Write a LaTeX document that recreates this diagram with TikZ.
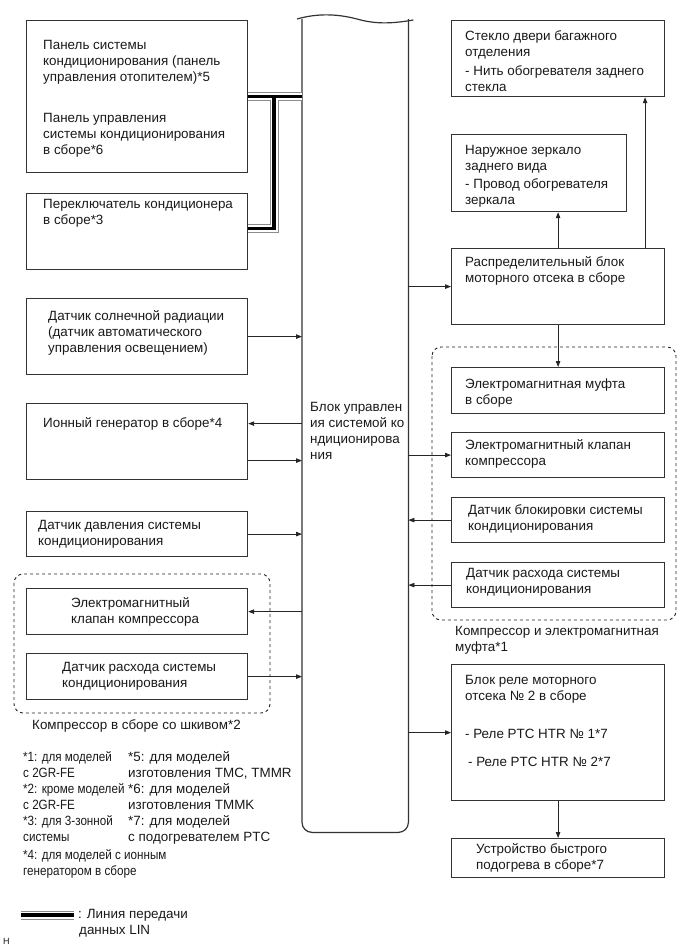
\documentclass[tikz,border=0pt]{standalone}
\usepackage{fontspec}
\setmainfont{Liberation Sans}
\newfontfamily\notefont{Liberation Sans}[FakeStretch=0.87]
\usepackage{tikz}
\usetikzlibrary{arrows.meta,positioning,calc}

\begin{document}
\begin{tikzpicture}[x=1pt,y=-1pt,>={Triangle[length=6,width=4.5]},
  box/.style={draw=black!80,line width=1.2,anchor=north west,inner sep=0},
  txt/.style={align=left,inner sep=0,anchor=north west,text=black!90,
    font=\fontsize{13.4}{16}\selectfont},
  grp/.style={draw=black!85,dashed,line width=0.9,rounded corners=9},
  con/.style={->,draw=black!85,line width=0.8}]
  \useasboundingbox (0,0) rectangle (690,951);
  % left column
  \node[box,minimum width=221,minimum height=152] (pan) at (26,20) {};
  \node[box,minimum width=221,minimum height=76] (sw) at (26,193) {};
  \node[box,minimum width=221,minimum height=76] (sun) at (26,298) {};
  \node[box,minimum width=221,minimum height=76] (ion) at (26,403) {};
  \node[box,minimum width=221,minimum height=45] (prs) at (26,511) {};
  \node[box,minimum width=221,minimum height=46] (val) at (26,588) {};
  \node[box,minimum width=221,minimum height=46] (flw) at (26,653) {};
  \node[txt] at (43,40) {Панель системы\\кондиционирования (панель\\управления отопителем)*5\\[25pt]
    Панель управления\\системы кондиционирования\\в сборе*6};
  \node[txt] at (43,199) {Переключатель кондиционера\\в сборе*3};
  \node[txt] at (48,310) {Датчик солнечной радиации\\(датчик автоматического\\управления освещением)};
  \node[txt] at (43,417) {Ионный генератор в сборе*4};
  \node[txt] at (38,520) {Датчик давления системы\\кондиционирования};
  \node[txt] at (71,597) {Электромагнитный\\клапан компрессора};
  \node[txt] at (62,662) {Датчик расхода системы\\кондиционирования};
  \draw[grp] (14,574) rectangle (270,713);
  \node[txt] at (32,719) {Компрессор в сборе со шкивом*2};
  % control unit
  \node[anchor=north west,minimum width=106,minimum height=813,inner sep=0] (ecu) at (302,19) {};
  \draw[draw=black!80,line width=1.2,rounded corners=10] (ecu.north west) -- (ecu.south west)
    -- (ecu.south east) -- (ecu.north east);
  \draw[draw=black!80,line width=1.2] ([xshift=-5]ecu.north west) .. controls (318,13) and (338,14) .. (357,19)
    .. controls (378,25) and (395,23) .. ([xshift=5,yshift=-1]ecu.north east);
  \node[txt] at (310,402) {Блок управлен\\ия системой ко\\ндиционирова\\ния};
  % right column
  \node[box,minimum width=213,minimum height=76] (glass) at (451,20) {};
  \node[box,minimum width=175,minimum height=77] (mir) at (451,134) {};
  \node[box,minimum width=213,minimum height=76] (dist) at (451,248) {};
  \node[box,minimum width=213,minimum height=46] (clu) at (451,367) {};
  \node[box,minimum width=213,minimum height=45] (cval) at (451,432) {};
  \node[box,minimum width=213,minimum height=45] (lock) at (451,497) {};
  \node[box,minimum width=213,minimum height=45] (cflw) at (451,562) {};
  \node[box,minimum width=213,minimum height=136] (rel) at (451,664) {};
  \node[box,minimum width=213,minimum height=39] (heat) at (451,838) {};
  \node[txt] at (465,30) {Стекло двери багажного\\отделения\\[3pt]- Нить обогревателя заднего\\стекла};
  \node[txt] at (465,145) {Наружное зеркало\\заднего вида\\[2pt]- Провод обогревателя\\зеркала};
  \node[txt] at (465,256) {Распределительный блок\\моторного отсека в сборе};
  \node[txt] at (465,379) {Электромагнитная муфта\\в сборе};
  \node[txt] at (465,439) {Электромагнитный клапан\\компрессора};
  \node[txt] at (468,504) {Датчик блокировки системы\\кондиционирования};
  \node[txt] at (466,568) {Датчик расхода системы\\кондиционирования};
  \draw[grp] (432,347) rectangle (676,620);
  \node[txt] at (455,626) {Компрессор и электромагнитная\\муфта*1};
  \node[txt] at (465,675) {Блок реле моторного\\отсека № 2 в сборе\\[22pt]- Реле PTC HTR № 1*7\\[12pt]\hspace*{3pt}- Реле PTC HTR № 2*7};
  \node[txt] at (476,843) {Устройство быстрого\\подогрева в сборе*7};
  % LIN bus
  \coordinate (lj) at (274,96);
  \foreach \w/\c in {9/black!45,7/white,3.6/black}
    \draw[line width=\w,draw=\c] (pan.east) -- (pan.east -| ecu.west)
      (lj) |- ([yshift=3]sw.east);
  % signals
  \draw[con] (sun.east) -- (sun.east -| ecu.west);
  \draw[con] ([yshift=18]ion.east -| ecu.west) -- ([yshift=18]ion.east);
  \draw[con] ([yshift=-19]ion.east) -- ([yshift=-19]ion.east -| ecu.west);
  \draw[con] (prs.east) -- (prs.east -| ecu.west);
  \draw[con] (val.east -| ecu.west) -- (val.east);
  \draw[con] (flw.east) -- (flw.east -| ecu.west);
  \draw[con] (dist.west -| ecu.east) -- (dist.west);
  \draw[con] (cval.west -| ecu.east) -- (cval.west);
  \draw[con] (lock.west) -- (lock.west -| ecu.east);
  \draw[con] (cflw.west) -- (cflw.west -| ecu.east);
  \draw[con] (rel.west -| ecu.east) -- (rel.west);
  \draw[con] (dist.north) -- (dist.north |- mir.south);
  \draw[con] ([xshift=87]dist.north) -- ([xshift=87]dist.north |- glass.south);
  \draw[con] (dist.south) -- (clu.north);
  \draw[con] (rel.south) -- (heat.north);
  % notes
  \node[txt,font=\notefont\fontsize{13.4}{16}\selectfont] (n1) at (23,751) {*1: для моделей\\с 2GR-FE\\*2: кроме моделей\\с 2GR-FE\\*3: для 3-зонной\\системы\\[2pt]
    *4: для моделей с ионным\\генератором в сборе};
  \node[txt] (n5) at (128,751) {*5: для моделей\\изготовления TMC, TMMR\\*6: для моделей\\изготовления TMMK\\*7: для моделей\\с подогревателем PTC};
  \coordinate (la) at (21,915);
  \coordinate (lb) at (74,915);
  \foreach \w/\c in {9/black!45,7/white,3.6/black}
    \draw[line width=\w,draw=\c] (la) -- (lb);
  \node[txt] (lin) at (78,909) {: Линия передачи\\\hspace*{1pt}данных LIN};
  \node[txt,font=\fontsize{9}{10}\selectfont] (hh) at (3,938) {H};
\end{tikzpicture}
\end{document}
